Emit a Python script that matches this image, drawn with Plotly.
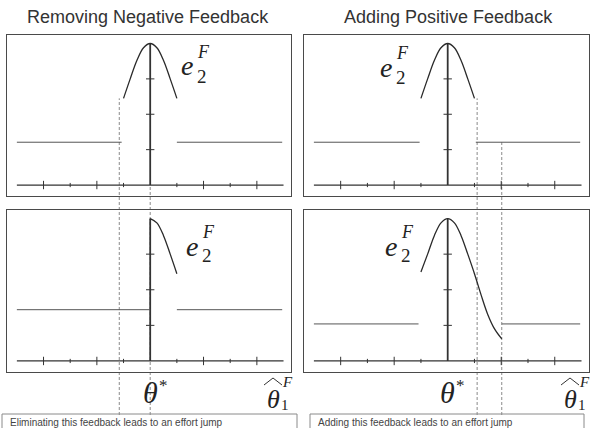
import plotly.graph_objects as go

W, H = 594, 428

# ---------------- data ----------------
titles = ["Removing Negative Feedback", "Adding Positive Feedback"]

tl_curve_x = [-1.0, -0.75, -0.5, -0.25, 0.0, 0.25, 0.5, 0.75, 1.0]
tl_curve_y = [2.45, 3.0, 3.52, 3.88, 4.0, 3.88, 3.52, 3.0, 2.45]
tr_curve_x = [-1.0, -0.75, -0.5, -0.25, 0.0, 0.25, 0.5, 0.75, 1.0]
tr_curve_y = [2.45, 3.0, 3.52, 3.88, 4.0, 3.88, 3.52, 3.0, 2.45]
bl_curve_x = [0.0, 0.25, 0.5, 0.75, 1.0]
bl_curve_y = [4.0, 3.88, 3.52, 3.0, 2.45]
br_curve_x = [-1.0, -0.75, -0.5, -0.25, 0.0, 0.25, 0.5, 0.75, 1.0, 1.25, 1.5, 1.75, 2.02]
br_curve_y = [2.5, 3.0, 3.52, 3.88, 4.0, 3.88, 3.52, 3.0, 2.45, 1.85, 1.3, 0.9, 0.62]

# flat effort levels: (left end of gap, right end of gap, level)
tl_level = (-1.07, 1.0, 1.21)
tr_level = (-1.05, 1.05, 1.21)
bl_level = (0.0, 1.0, 1.44)
br_level = (-1.09, 2.02, 1.04)

axis_extent = (-5.0, 5.0)
x_ticks_major = [-4, -2, 2, 4]
x_ticks_minor = [-3, -1, 1, 3]
y_ticks = [1, 2, 3]
peak = 4.0

# dashed guide lines (x position, starting level in top panel)
left_guides = [(-1.16, 2.45), (0.0, 0.0)]
right_guides = [(1.1, 2.45), (2.02, 1.21)]

caption_left = "Eliminating this feedback leads to an effort jump"
caption_right = "Adding this feedback leads to an effort jump"

# ---------------- layout helpers ----------------
def PX(x):
    return x / W

def PY(y):
    return 1 - y / H

XR = [-5.37, 5.28]
YR = [-0.31, 4.24]
panels = {
    1: dict(x=(7, 291), y=(35, 196)),
    2: dict(x=(304, 589), y=(35, 196)),
    3: dict(x=(7, 291), y=(210, 372)),
    4: dict(x=(304, 589), y=(210, 372)),
}

fig = go.Figure()

CURVE = "#2a2a2a"
LEVEL = "#555555"
AXC = "#333333"

def add_panel(k, cx, cy, level, bottom_axis_top):
    xa = "x" if k == 1 else f"x{k}"
    ya = "y" if k == 1 else f"y{k}"
    fig.add_trace(go.Scatter(x=list(axis_extent), y=[0, 0], mode="lines",
                             line=dict(color=AXC, width=1.3), xaxis=xa, yaxis=ya))
    fig.add_trace(go.Scatter(x=[0, 0], y=[0, bottom_axis_top], mode="lines",
                             line=dict(color=AXC, width=1.8), xaxis=xa, yaxis=ya))
    fig.add_trace(go.Scatter(x=x_ticks_major, y=[0] * len(x_ticks_major), mode="markers",
                             marker=dict(symbol="line-ns", size=6, line=dict(width=1, color=AXC)),
                             xaxis=xa, yaxis=ya))
    fig.add_trace(go.Scatter(x=x_ticks_minor, y=[0] * len(x_ticks_minor), mode="markers",
                             marker=dict(symbol="line-ns", size=3, line=dict(width=1, color=AXC)),
                             xaxis=xa, yaxis=ya))
    fig.add_trace(go.Scatter(x=[0] * len(y_ticks), y=y_ticks, mode="markers",
                             marker=dict(symbol="line-ew", size=6, line=dict(width=1, color=AXC)),
                             xaxis=xa, yaxis=ya))
    g0, g1, lv = level
    fig.add_trace(go.Scatter(x=[axis_extent[0], g0], y=[lv, lv], mode="lines",
                             line=dict(color=LEVEL, width=1), xaxis=xa, yaxis=ya))
    fig.add_trace(go.Scatter(x=[g1, axis_extent[1] - 0.05], y=[lv, lv], mode="lines",
                             line=dict(color=LEVEL, width=1), xaxis=xa, yaxis=ya))
    fig.add_trace(go.Scatter(x=cx, y=cy, mode="lines", line=dict(color=CURVE, width=1.3, shape="spline"),
                             xaxis=xa, yaxis=ya))

add_panel(1, tl_curve_x, tl_curve_y, tl_level, peak)
add_panel(2, tr_curve_x, tr_curve_y, tr_level, peak)
add_panel(3, bl_curve_x, bl_curve_y, bl_level, peak)
add_panel(4, br_curve_x, br_curve_y, br_level, peak)

layout = dict(width=W, height=H, margin=dict(l=0, r=0, t=0, b=0),
              paper_bgcolor="white", plot_bgcolor="white", showlegend=False)
for k, p in panels.items():
    xs = "xaxis" if k == 1 else f"xaxis{k}"
    ys = "yaxis" if k == 1 else f"yaxis{k}"
    ax = dict(showgrid=False, zeroline=False, showticklabels=False, ticks="",
              showline=True, mirror=True, linecolor="#4a4a4a", linewidth=1.3, fixedrange=True)
    layout[xs] = dict(ax, domain=[PX(p["x"][0]), PX(p["x"][1])], range=XR,
                      anchor="y" if k == 1 else f"y{k}")
    layout[ys] = dict(ax, domain=[PY(p["y"][1]), PY(p["y"][0])], range=YR,
                      anchor="x" if k == 1 else f"x{k}")
fig.update_layout(**layout)

# ---------------- dashed guides ----------------
def ypaper(k, v):
    d0, d1 = PY(panels[k]["y"][1]), PY(panels[k]["y"][0])
    return d0 + (v - YR[0]) / (YR[1] - YR[0]) * (d1 - d0)

for gx, gy in left_guides:
    fig.add_shape(type="line", xref="x", yref="paper", x0=gx, x1=gx, y0=PY(415), y1=ypaper(1, gy),
                  line=dict(color="#8a8a8a", width=1, dash="3px,2px"), layer="below")
for gx, gy in right_guides:
    fig.add_shape(type="line", xref="x2", yref="paper", x0=gx, x1=gx, y0=PY(415), y1=ypaper(2, gy),
                  line=dict(color="#8a8a8a", width=1, dash="3px,2px"), layer="below")

# ---------------- text ----------------
SANS = "Liberation Sans, Arial, sans-serif"
SERIF = "Liberation Serif, Times New Roman, serif"

def ann(x, y, text, size, family=SERIF, color="#222", xanchor="center", yanchor="middle"):
    fig.add_annotation(x=PX(x), y=PY(y), xref="paper", yref="paper", text=text, showarrow=False,
                       font=dict(family=family, size=size, color=color),
                       xanchor=xanchor, yanchor=yanchor)

ann(148, 17, titles[0], 18, SANS, "#333")
ann(449, 17, titles[1], 18, SANS, "#333")

# e_2^F labels: (e center x, e center y)
for ex, ey in [(187, 66), (386, 67), (192, 246), (391, 246)]:
    ann(ex, ey, "<i>e</i>", 28)
    ann(ex + 16, ey - 14, "<i>F</i>", 18)
    ann(ex + 15, ey + 10, "2", 19)

# theta* labels
for tx in [150, 447]:
    ann(tx, 392, "<i>θ</i>", 30)
    ann(tx + 13, 385, "*", 17)

# theta hat labels
for hx in [273, 570]:
    ann(hx, 399, "<i>θ</i>", 26)
    ann(hx + 14, 382, "<i>F</i>", 15)
    ann(hx + 12, 405, "1", 15)
    fig.add_shape(type="path", xref="paper", yref="paper",
                  path=f"M {PX(hx-9)},{PY(385)} L {PX(hx)},{PY(378)} L {PX(hx+9)},{PY(385)}",
                  line=dict(color="#333", width=1))

# caption boxes (cut off at the bottom of the picture)
fig.add_shape(type="rect", xref="paper", yref="paper", x0=PX(2), x1=PX(297), y0=PY(440), y1=PY(414),
              line=dict(color="#8a8a8a", width=1))
fig.add_shape(type="rect", xref="paper", yref="paper", x0=PX(310), x1=PX(584), y0=PY(440), y1=PY(414),
              line=dict(color="#8a8a8a", width=1))
ann(8, 415, caption_left, 10, SANS, "#444", xanchor="left", yanchor="top")
ann(316, 415, caption_right, 10, SANS, "#444", xanchor="left", yanchor="top")

fig.write_html("out.html")
